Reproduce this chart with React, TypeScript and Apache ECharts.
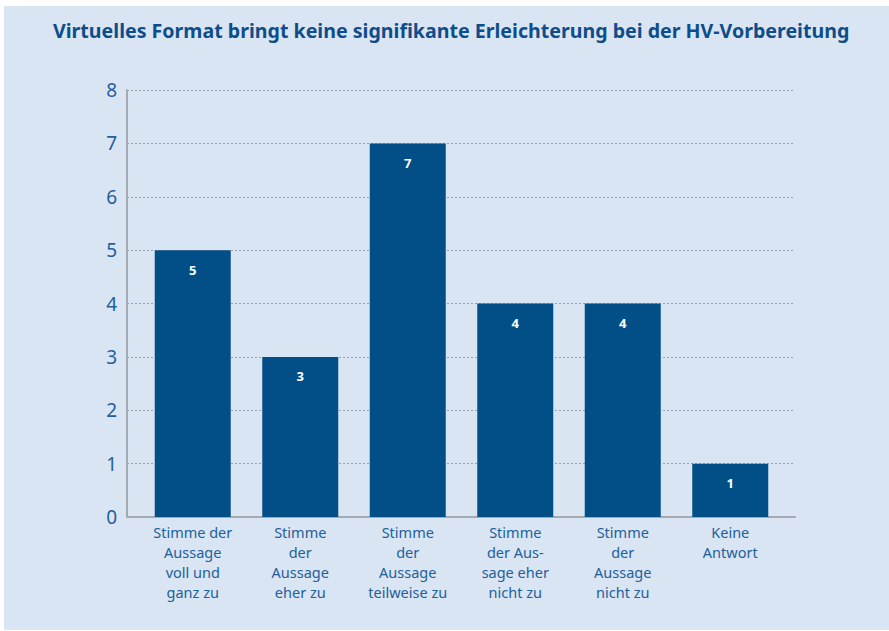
import React, { useEffect, useRef } from "react";
import * as echarts from "echarts";

const TITLE = "Virtuelles Format bringt keine signifikante Erleichterung bei der HV-Vorbereitung";
const categories = [
  "Stimme der\nAussage\nvoll und\nganz zu",
  "Stimme\nder\nAussage\neher zu",
  "Stimme\nder\nAussage\nteilweise zu",
  "Stimme\nder Aus-\nsage eher\nnicht zu",
  "Stimme\nder\nAussage\nnicht zu",
  "Keine\nAntwort",
];
const values = [5, 3, 7, 4, 4, 1];
const yTicks = { min: 0, max: 8, interval: 1 };

const FONT = "'Noto Sans', sans-serif";
const TOP = 90;
const BOTTOM = 631 - 517;

export default function App() {
  const ref = useRef<HTMLDivElement>(null);
  useEffect(() => {
    const chart = echarts.init(ref.current!, null, { renderer: "svg" });
    chart.setOption({
      animation: false,
      backgroundColor: "#ffffff",
      graphic: [
        {
          type: "rect",
          shape: { x: 4, y: 6, width: 885, height: 624 },
          style: { fill: "#d9e5f2" },
          z: -10,
          silent: true,
        },
      ],
      title: {
        text: TITLE,
        left: 48,
        top: 15,
        textStyle: { fontFamily: FONT, fontSize: 19.6, fontWeight: "bold", color: "#0e4d8a" },
      },
      grid: [
        { left: 139, width: 645, top: TOP, bottom: BOTTOM },
        { left: 127, width: 668, top: TOP, bottom: BOTTOM },
      ],
      xAxis: [
        {
          type: "category",
          gridIndex: 0,
          data: categories,
          axisLine: { show: false },
          axisTick: { show: false },
          axisLabel: {
            fontFamily: FONT,
            fontSize: 14.5,
            color: "#22609c",
            lineHeight: 20,
            margin: 5,
            interval: 0,
          },
        },
        {
          type: "value",
          gridIndex: 1,
          min: 0,
          max: 1,
          axisLine: { show: true, onZero: false, lineStyle: { color: "#a3aab2", width: 2 } },
          axisTick: { show: false },
          axisLabel: { show: false },
          splitLine: { show: false },
        },
      ],
      yAxis: [
        {
          type: "value",
          gridIndex: 0,
          ...yTicks,
          show: false,
          splitLine: { show: false },
        },
        {
          type: "value",
          gridIndex: 1,
          ...yTicks,
          axisLine: { show: true, lineStyle: { color: "#a3aab2", width: 2 } },
          axisTick: { show: false },
          axisLabel: { fontFamily: FONT, fontSize: 19, color: "#22609c", margin: 10 },
          splitLine: { show: true, lineStyle: { color: "#9aa3ad", type: [2, 2], width: 1 } },
        },
      ],
      series: [
        {
          type: "bar",
          xAxisIndex: 0,
          yAxisIndex: 0,
          data: values,
          barWidth: 76,
          itemStyle: { color: "#024f87" },
          z: 5,
          label: {
            show: true,
            position: "insideTop",
            distance: 13,
            color: "#ffffff",
            fontFamily: FONT,
            fontWeight: "bold",
            fontSize: 13,
          },
        },
      ],
    });
    return () => chart.dispose();
  }, []);
  return (
    <div
      ref={ref}
      style={{ position: "fixed", left: 0, top: 0, width: 889, height: 631, background: "#fff" }}
    />
  );
}
